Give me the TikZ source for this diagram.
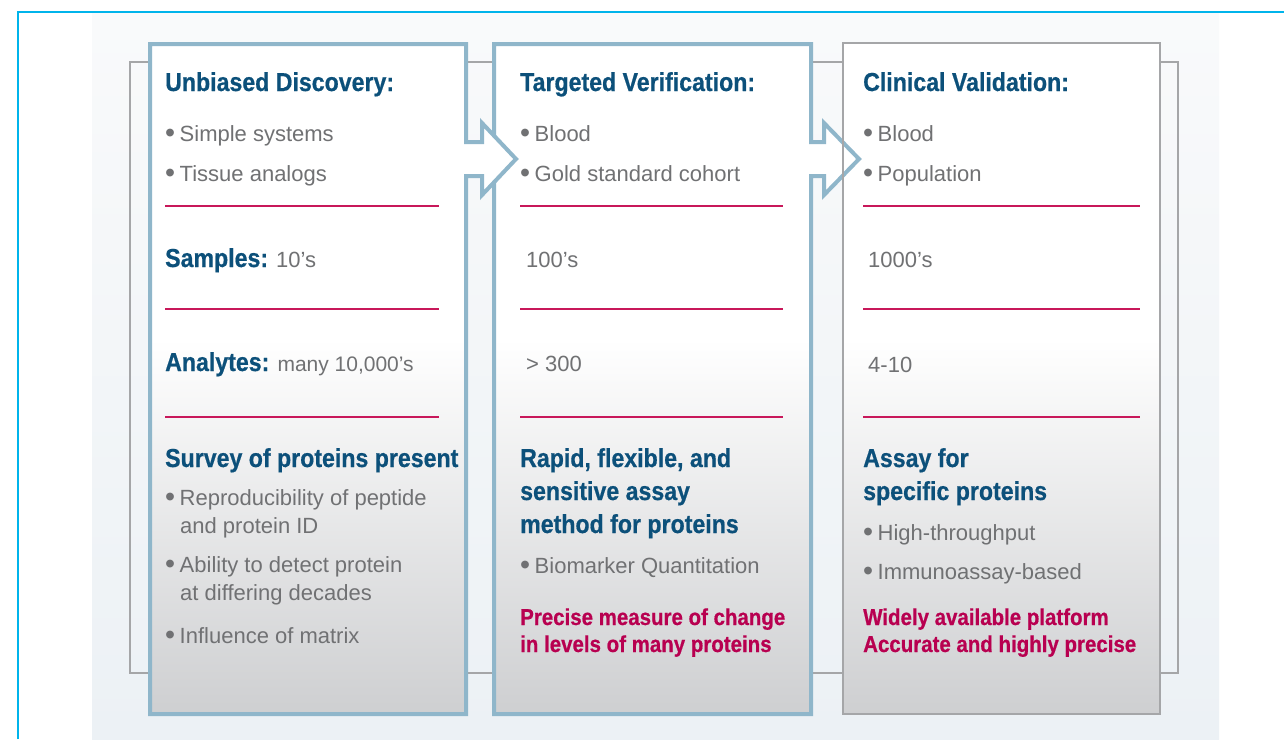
\documentclass[tikz,border=0pt]{standalone}
\usepackage{fontspec}
\usepackage{graphicx}
\setmainfont{Liberation Sans}
\newfontfamily\headfont[FakeStretch=0.89, BoldFeatures={FakeBold=0.6}]{Liberation Sans}

\definecolor{headblue}{RGB}{12,80,122}
\definecolor{bodygray}{RGB}{112,113,115}
\definecolor{accent}{RGB}{184,0,80}
\definecolor{rulemag}{RGB}{200,24,90}
\definecolor{panelblue}{RGB}{143,182,202}
\definecolor{framegray}{RGB}{165,166,168}
\definecolor{cyanline}{RGB}{0,180,235}
\definecolor{bgtop}{RGB}{249,250,251}
\definecolor{bgbot}{RGB}{236,241,245}
\definecolor{pbot}{RGB}{206,207,209}

% panel fill: white in the upper half, fading to grey at the bottom
\pgfdeclareverticalshading{panelfill}{100bp}{color(0bp)=(pbot); color(25bp)=(pbot); color(53bp)=(white); color(100bp)=(white)}

\tikzset{
  head/.style={anchor=base west, inner sep=0pt, text=headblue,
    font=\headfont\bfseries\fontsize{26}{31}\selectfont},
  body/.style={anchor=base west, inner sep=0pt, text=bodygray,
    font=\fontsize{22}{26}\selectfont},
  note/.style={anchor=base west, inner sep=0pt, text=accent,
    font=\headfont\bfseries\fontsize{23}{27}\selectfont},
  sepline/.style={draw=rulemag, line width=1.5pt},
  bluepanel/.style={draw=panelblue, line width=4pt, line join=miter},
}
\newcommand{\bul}{\raisebox{-1.6pt}{\scalebox{1.3}{\textbullet}}\hspace{4.5pt}}
\newcommand{\lbl}[1]{{\headfont\bfseries\fontsize{26}{31}\selectfont\color{headblue}#1}}

\begin{document}
\begin{tikzpicture}[x=1pt,y=-1pt]
\useasboundingbox (0,0) rectangle (1284,739);

% page background and frame
\fill[white] (0,0) rectangle (1284,739);
\fill[top color=bgtop, bottom color=bgbot] (92,12) rectangle (1219,739);
\draw[cyanline, line width=1.5pt] (18,739) -- (18,12) -- (1284,12);

% grey box behind the three stages
\draw[framegray, line width=2pt] (130,62) rectangle (1178,673);

% stage 3 fill
\shade[shading=panelfill] (843,43) rectangle (1160,714);

% stage 2 with arrow into stage 3
\shade[shading=panelfill] (494,44) rectangle (811,714);
\fill[white] (809,142) -- (824,142) -- (824,123) -- (859,159) -- (824,195) -- (824,176) -- (809,176) -- cycle;
\draw[bluepanel] (494,44) -- (811,44) -- (811,142) -- (824,142) -- (824,123) -- (859,159)
  -- (824,195) -- (824,176) -- (811,176) -- (811,714) -- (494,714) -- cycle;

% stage 3 border
\draw[framegray, line width=2pt] (843,43) rectangle (1160,714);

% stage 1 with arrow into stage 2
\shade[shading=panelfill] (150,44) rectangle (466,714);
\fill[white] (464,142) -- (482,142) -- (482,123) -- (516,159) -- (482,195) -- (482,176) -- (464,176) -- cycle;
\draw[bluepanel] (150,44) -- (466,44) -- (466,142) -- (482,142) -- (482,123) -- (516,159)
  -- (482,195) -- (482,176) -- (466,176) -- (466,714) -- (150,714) -- cycle;

% ---- stage 1 text
\node[head] (h1) at (165,91) {Unbiased Discovery:};
\node[body] (p1a) at (165,141) {\bul Simple systems};
\node[body] (p1b) at (165,181) {\bul Tissue analogs};
\draw[sepline] (165,206) -- (439,206);
\node[body] (s1) at (165,267) {\lbl{Samples:} 10’s};
\draw[sepline] (165,309) -- (439,309);
\node[body] (a1) at (165,371) {\lbl{Analytes:} {\fontsize{21}{26}\selectfont many 10,000’s}};
\draw[sepline] (165,417) -- (439,417);
\node[head] (t1) at (165,467) {Survey of proteins present};
\node[body] (d1a) at (165,505) {\bul Reproducibility of peptide};
\node[body] (d1b) at (180,533) {and protein ID};
\node[body] (d1c) at (165,572) {\bul Ability to detect protein};
\node[body] (d1d) at (180,600) {at differing decades};
\node[body] (d1e) at (165,643) {\bul Influence of matrix};

% ---- stage 2 text
\node[head] (h2) at (520,91) {Targeted Verification:};
\node[body] (p2a) at (520,141) {\bul Blood};
\node[body] (p2b) at (520,181) {\bul Gold standard cohort};
\draw[sepline] (520,206) -- (783,206);
\node[body] (s2) at (526,267) {100’s};
\draw[sepline] (520,309) -- (783,309);
\node[body] (a2) at (526,371) {> 300};
\draw[sepline] (520,417) -- (783,417);
\node[head] (t2a) at (520,467) {Rapid, flexible, and};
\node[head] (t2b) at (520,500) {sensitive assay};
\node[head] (t2c) at (520,533) {method for proteins};
\node[body] (d2a) at (520,573) {\bul Biomarker Quantitation};
\node[note] (n2a) at (520,625) {Precise measure of change};
\node[note] (n2b) at (520,652) {in levels of many proteins};

% ---- stage 3 text
\node[head] (h3) at (863,91) {Clinical Validation:};
\node[body] (p3a) at (863,141) {\bul Blood};
\node[body] (p3b) at (863,181) {\bul Population};
\draw[sepline] (863,206) -- (1140,206);
\node[body] (s3) at (868,267) {1000’s};
\draw[sepline] (863,309) -- (1140,309);
\node[body] (a3) at (868,372) {4-10};
\draw[sepline] (863,417) -- (1140,417);
\node[head] (t3a) at (863,467) {Assay for};
\node[head] (t3b) at (863,500) {specific proteins};
\node[body] (d3a) at (863,540) {\bul High-throughput};
\node[body] (d3b) at (863,579) {\bul Immunoassay-based};
\node[note] (n3a) at (863,625) {Widely available platform};
\node[note] (n3b) at (863,652) {Accurate and highly precise};
\end{tikzpicture}
\end{document}
